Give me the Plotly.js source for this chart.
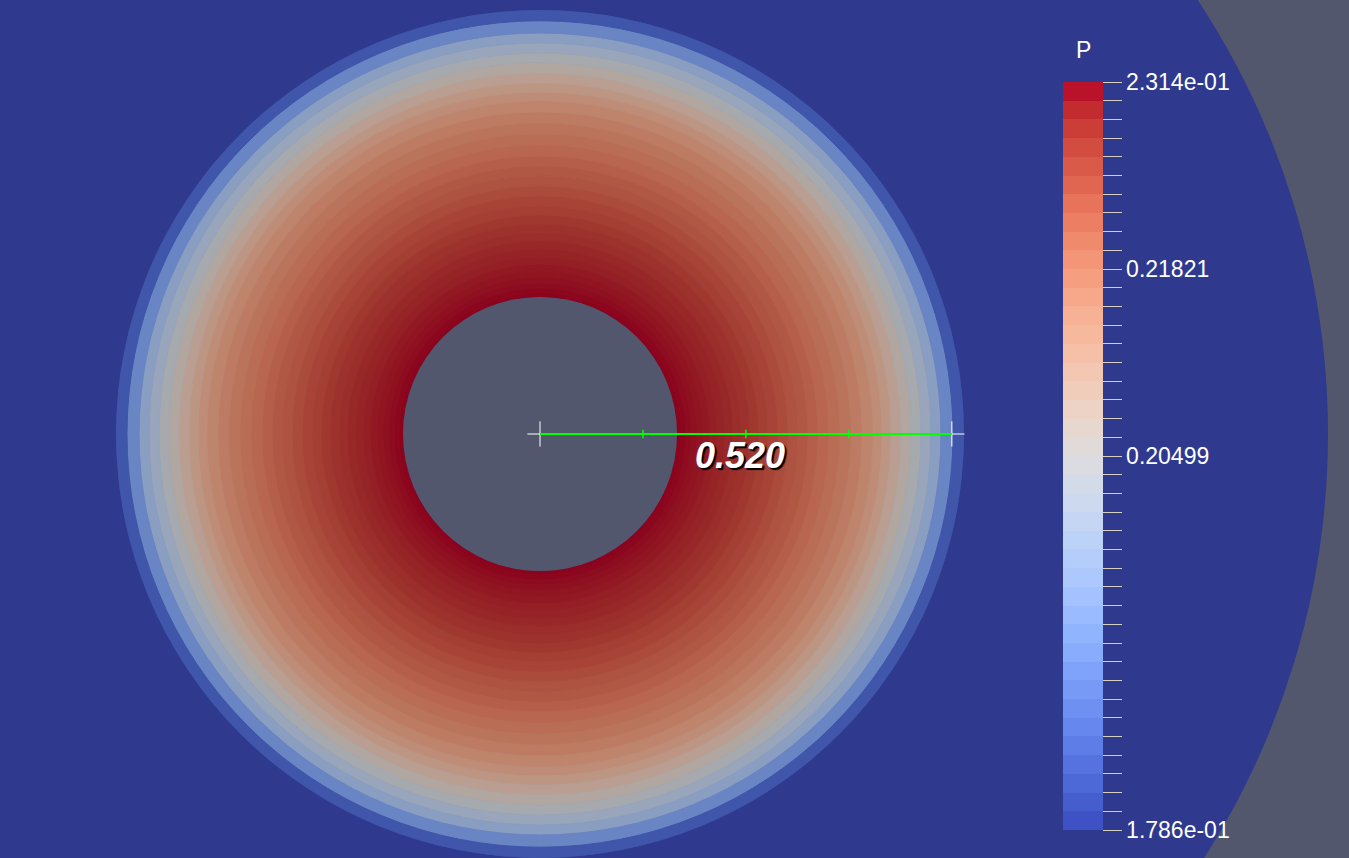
<!DOCTYPE html>
<html><head><meta charset="utf-8">
<script src="https://cdn.plot.ly/plotly-3.0.1.min.js"></script>
<style>html,body{margin:0;padding:0;background:#52576e;overflow:hidden}#chart{width:1349px;height:858px}</style>
</head><body><div id="chart"></div>
<script>
// ---- data ----
// radial cell-ring boundaries (length units; ruler: 0.520 from cylinder centre)
const ringEdges = [0.1730, 0.1780, 0.1843, 0.1907, 0.1982, 0.2058, 0.2146, 0.2235, 0.2336, 0.2437,
  0.2538, 0.2652, 0.2765, 0.2879, 0.3005, 0.3131, 0.3258, 0.3384, 0.3510, 0.3649,
  0.3788, 0.3927, 0.4066, 0.4205, 0.4318, 0.4432, 0.4558, 0.4684, 0.4811, 0.4937,
  0.5063, 0.5215, 0.5354];
// pressure P in each ring
const ringP = [0.23140, 0.23114, 0.23087, 0.23061, 0.23034, 0.23008, 0.22971, 0.22929, 0.22887, 0.22839,
  0.22781, 0.22718, 0.22638, 0.22559, 0.22464, 0.22374, 0.22285, 0.22190, 0.22084, 0.21978,
  0.21873, 0.21741, 0.21582, 0.21398, 0.21186, 0.20949, 0.20685, 0.20394, 0.20078, 0.19761,
  0.19127, 0.18282];
const cylinderRadius = 0.1730;
const rulerLength = 0.520;
const rulerLabel = '0.520';
const rulerTicks = [0.130, 0.260, 0.390];
const pMin = 0.1786, pMax = 0.2314;
const cbLabelVals = [0.1786, 0.19178, 0.20499, 0.21821, 0.2314];
const cbLabelText = ['1.786e-01', '0.19178', '0.20499', '0.21821', '2.314e-01'];
const cbSteps = 40;

// ---- style ----
const BG_GRAY = '#52576e';
const DOMAIN_BLUE = '#2f3a8f';
const SHADE = 0.77;
const coolwarm = [
 [0.0,59,76,192],[0.03125,68,90,204],[0.0625,77,104,215],[0.09375,87,117,225],[0.125,98,130,234],
 [0.15625,108,142,241],[0.1875,119,154,247],[0.21875,130,165,251],[0.25,141,176,254],[0.28125,152,185,255],
 [0.3125,163,194,255],[0.34375,174,201,253],[0.375,184,208,249],[0.40625,194,213,244],[0.4375,204,217,238],
 [0.46875,213,219,230],[0.5,221,221,221],[0.53125,229,216,209],[0.5625,236,211,197],[0.59375,241,204,185],
 [0.625,245,196,173],[0.65625,247,187,160],[0.6875,247,177,148],[0.71875,247,166,135],[0.75,244,154,123],
 [0.78125,241,141,111],[0.8125,236,127,99],[0.84375,229,112,88],[0.875,222,96,77],[0.90625,213,80,66],
 [0.9375,203,62,56],[0.96875,192,40,47],[1.0,180,4,38]];
function cw(t, s) {
  s = s || 1;
  for (let i = 0; i < coolwarm.length - 1; i++) {
    const a = coolwarm[i], b = coolwarm[i + 1];
    if (t <= b[0] + 1e-9) {
      const f = (t - a[0]) / (b[0] - a[0]);
      const c = [1, 2, 3].map(k => Math.round((a[k] + f * (b[k] - a[k])) * s));
      return `rgb(${c[0]},${c[1]},${c[2]})`;
    }
  }
  const e = coolwarm[coolwarm.length - 1];
  return `rgb(${Math.round(e[1]*s)},${Math.round(e[2]*s)},${Math.round(e[3]*s)})`;
}
const fieldScale = coolwarm.map(c => [c[0], cw(c[0], SHADE)]);
const cbScale = [];
for (let i = 0; i < cbSteps; i++) {
  const c = cw((i + 0.5) / cbSteps);
  cbScale.push([i / cbSteps, c], [(i + 1) / cbSteps, c]);
}
const tickVals = [], tickText = [];
for (let i = 0; i <= cbSteps; i++) {
  const v = pMin + (pMax - pMin) * i / cbSteps;
  tickVals.push(v);
  const j = cbLabelVals.findIndex(x => Math.abs(x - v) < 1e-5);
  tickText.push(j >= 0 ? cbLabelText[j] : '');
}

const W = 1349, H = 858, CX = 540, CY = 434, PR = 424, OUTER = 788;
const font = 'Liberation Sans, Arial, sans-serif';

const traces = [
  { type: 'barpolar', base: ringEdges.slice(0, -1),
    r: ringP.map((_, i) => ringEdges[i + 1] - ringEdges[i]),
    theta: ringP.map(() => 0), width: ringP.map(() => 360),
    marker: { color: ringP, colorscale: fieldScale, cmin: pMin, cmax: pMax, showscale: false,
      line: { width: 1, color: ringP, colorscale: fieldScale, cmin: pMin, cmax: pMax } },
    hoverinfo: 'skip' },
  { type: 'barpolar', base: [0], r: [cylinderRadius], theta: [0], width: [360],
    marker: { color: BG_GRAY, line: { width: 0 } }, hoverinfo: 'skip' },
  { type: 'scatterpolar', mode: 'markers', r: [0, rulerLength], theta: [0, 0],
    marker: { symbol: 'cross-thin', size: 18, line: { color: '#ffffff', width: 1 } }, hoverinfo: 'skip' },
  { type: 'scatterpolar', mode: 'lines', r: [0, rulerLength], theta: [0, 0],
    line: { color: '#00ff00', width: 2 }, hoverinfo: 'skip' },
  { type: 'scatterpolar', mode: 'markers', r: rulerTicks, theta: rulerTicks.map(() => 0),
    marker: { symbol: 'line-ns', size: 6, line: { color: '#00ff00', width: 1.5 } }, hoverinfo: 'skip' },
  { type: 'barpolar', r: [0], theta: [0], width: [1], hoverinfo: 'skip',
    marker: { color: [pMin], colorscale: cbScale, cmin: pMin, cmax: pMax, showscale: true,
      colorbar: {
        x: 1063 / W, xanchor: 'left', xref: 'paper', y: 1 - 456 / H, yanchor: 'middle', yref: 'paper',
        len: 748, lenmode: 'pixels', thickness: 40, thicknessmode: 'pixels',
        xpad: 0, ypad: 0, outlinewidth: 0, borderwidth: 0, bgcolor: 'rgba(0,0,0,0)',
        tickmode: 'array', tickvals: tickVals, ticktext: tickText,
        ticks: 'outside', ticklen: 19, tickwidth: 1, tickcolor: '#d6d1bf',
        tickfont: { family: font, size: 23, color: '#ffffff' },
        title: { text: '' }
      } } }
];

const layout = {
  width: W, height: H, margin: { l: 0, r: 0, t: 0, b: 0, pad: 0 },
  paper_bgcolor: BG_GRAY, showlegend: false,
  polar: {
    domain: { x: [(CX - PR) / W, (CX + PR) / W], y: [(H - CY - PR) / H, (H - CY + PR) / H] },
    bgcolor: DOMAIN_BLUE, barmode: 'overlay', bargap: 0,
    radialaxis: { visible: false, showgrid: false, range: [0, PR / 792] },
    angularaxis: { visible: false, showgrid: false, showline: false }
  },
  shapes: [{ type: 'circle', xref: 'paper', yref: 'paper', layer: 'below',
    x0: (CX - OUTER) / W, x1: (CX + OUTER) / W, y0: (H - CY - OUTER) / H, y1: (H - CY + OUTER) / H,
    fillcolor: DOMAIN_BLUE, line: { width: 0 } }],
  annotations: [
    { text: 'P', xref: 'paper', yref: 'paper', x: 1083 / W, y: 1 - 50 / H, xanchor: 'center', yanchor: 'middle',
      showarrow: false, font: { family: font, size: 23, color: '#ffffff' } },
    { text: rulerLabel, xref: 'paper', yref: 'paper', x: 740 / W, y: 1 - 455 / H, xanchor: 'center', yanchor: 'middle',
      showarrow: false, font: { family: font, size: 36, color: '#ffffff', weight: 'bold', style: 'italic',
        shadow: '2px 2px 1px #000000' } }
  ]
};
Plotly.newPlot('chart', traces, layout, { displayModeBar: false, staticPlot: true });
</script></body></html>
